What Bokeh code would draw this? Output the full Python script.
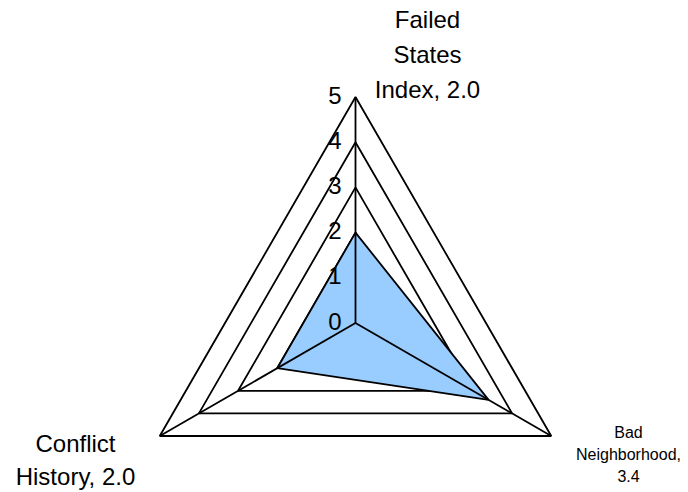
import math
from bokeh.plotting import figure
from bokeh.models import Range1d
from bokeh.core.properties import value
from bokeh.embed import file_html
from bokeh.resources import INLINE

# ---- data ----
categories = ["Failed States Index", "Bad Neighborhood", "Conflict History"]
label_lines = [["Failed", "States", "Index"], ["Bad", "Neighborhood"], ["Conflict", "History"]]
scores = [2.0, 3.4, 2.0]
ring_levels = [1, 2, 3, 4, 5]
tick_labels = ["0", "1", "2", "3", "4", "5"]

# ---- layout (page pixels) ----
W, H = 688, 492
CX, CY = 355.0, 322.5     # centre on the page
U = 45.2                  # pixels per unit value
FONT = "Liberation Sans"

def page_to_data(px, py):
    return (px - CX) / U, (CY - py) / U

x0, y_top = page_to_data(0, 0)
x1, y_bot = page_to_data(W, H)

p = figure(width=W, height=H, output_backend="svg", toolbar_location=None,
           x_range=Range1d(x0, x1), y_range=Range1d(y_bot, y_top),
           min_border=0, outline_line_color=None)
p.axis.visible = False
p.grid.visible = False
p.background_fill_color = "white"
p.border_fill_color = "white"

n = len(categories)
angles = [math.pi / 2 - i * 2 * math.pi / n for i in range(n)]

# rings
ring_xs = [[r * math.cos(a) for a in angles] for r in ring_levels]
ring_ys = [[r * math.sin(a) for a in angles] for r in ring_levels]
p.patches(ring_xs, ring_ys, fill_color=None, line_color="black", line_width=1.8)

# data fill
dx = [s * math.cos(a) for s, a in zip(scores, angles)]
dy = [s * math.sin(a) for s, a in zip(scores, angles)]
p.patch(dx, dy, fill_color="#99CCFF", line_color=None)

# spokes
rmax = max(ring_levels)
p.segment(x0=[0] * n, y0=[0] * n,
          x1=[rmax * math.cos(a) for a in angles],
          y1=[rmax * math.sin(a) for a in angles],
          line_color="black", line_width=1.8)

# data outline
p.patch(dx, dy, fill_color=None, line_color="black", line_width=1.8)

# value axis tick labels
tx, _ = page_to_data(341, 0)
p.text(x=[tx] * len(tick_labels), y=[float(t) for t in tick_labels], text=tick_labels,
       text_font=value(FONT), text_font_size="24px", text_align="right",
       text_baseline="middle", y_offset=-2, text_color="black")

# category labels (wrapped as in the reference)
labels = [
    "\n".join(label_lines[0][:-1] + [f"{label_lines[0][-1]}, {scores[0]:.1f}"]),
    "\n".join(label_lines[1][:-1] + [f"{label_lines[1][-1]},", f"{scores[1]:.1f}"]),
    "\n".join(label_lines[2][:-1] + [f"{label_lines[2][-1]}, {scores[2]:.1f}"]),
]
lab_pos = [page_to_data(427, 54), page_to_data(628, 454), page_to_data(75, 459.5)]
sizes = ["24px", "16px", "24px"]
lh = [1.28, 1.3, 1.24]
for t, (lx, ly), fs, h in zip(labels, lab_pos, sizes, lh):
    p.text(x=[lx], y=[ly], text=[t], text_font=value(FONT), text_font_size=fs,
           text_align="center", text_baseline="middle", text_line_height=h,
           text_color="black")

open("out.html", "w").write(file_html(p, INLINE))
